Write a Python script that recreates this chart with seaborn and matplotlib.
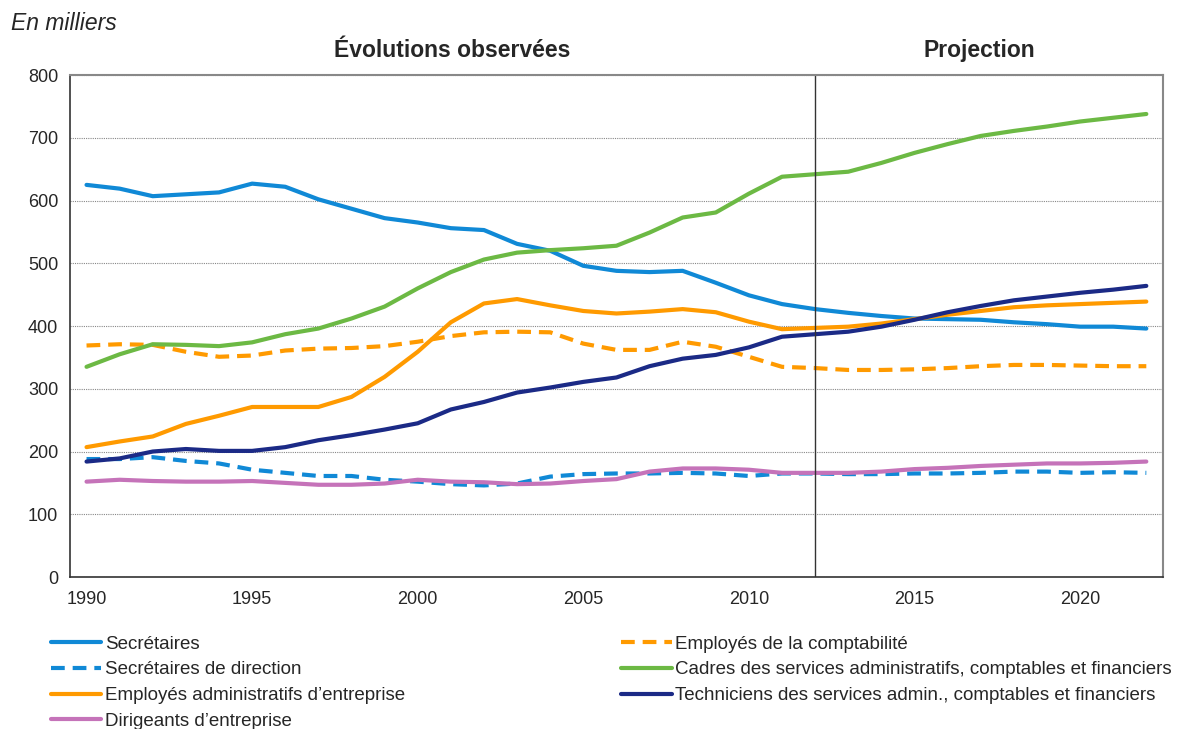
import numpy as np
import pandas as pd
import matplotlib
matplotlib.use("Agg")
import matplotlib.pyplot as plt
from matplotlib.ticker import MultipleLocator
import seaborn as sb

# Data (en milliers)
years = list(range(1990, 2023))

secretaires = [625, 619, 607, 610, 613, 627, 622, 602, 587, 572, 565, 556, 553, 531, 520,
               496, 488, 486, 488, 469, 449, 435, 427, 421, 416, 412, 411, 410, 406, 403,
               399, 399, 396]
secretaires_direction = [188, 188, 191, 185, 181, 171, 166, 161, 161, 155, 152, 148, 146, 149, 160,
                         164, 165, 165, 166, 165, 161, 165, 165, 164, 164, 165, 165, 166, 168, 168,
                         166, 167, 166]
employes_admin = [207, 216, 224, 244, 257, 271, 271, 271, 287, 319, 359, 406, 436, 443, 433,
                  424, 420, 423, 427, 422, 407, 395, 397, 399, 404, 411, 418, 424, 430, 433,
                  435, 437, 439]
dirigeants = [152, 155, 153, 152, 152, 153, 150, 147, 147, 149, 155, 152, 151, 148, 149,
              153, 156, 168, 173, 173, 171, 166, 166, 166, 168, 172, 174, 177, 179, 181,
              181, 182, 184]
employes_compta = [369, 371, 370, 359, 351, 353, 361, 364, 365, 368, 375, 384, 390, 391, 390,
                   372, 362, 362, 375, 367, 351, 335, 333, 330, 330, 331, 333, 336, 338, 338,
                   337, 336, 336]
cadres = [335, 355, 371, 370, 368, 374, 387, 396, 412, 431, 460, 486, 506, 517, 521,
          524, 528, 549, 573, 581, 611, 638, 642, 646, 660, 676, 690, 703, 711, 718,
          726, 732, 738]
techniciens = [184, 189, 200, 204, 201, 201, 207, 218, 226, 235, 245, 267, 279, 294, 302,
               311, 318, 336, 348, 354, 366, 383, 387, 391, 399, 410, 422, 432, 441, 447,
               453, 458, 464]

series = [
    ("Secrétaires", secretaires, "#1089d6", "-"),
    ("Secrétaires de direction", secretaires_direction, "#1089d6", "--"),
    ("Employés administratifs d\u2019entreprise", employes_admin, "#ff9a00", "-"),
    ("Dirigeants d\u2019entreprise", dirigeants, "#c573b9", "-"),
    ("Employés de la comptabilité", employes_compta, "#ff9a00", "--"),
    ("Cadres des services administratifs, comptables et financiers", cadres, "#6cb944", "-"),
    ("Techniciens des services admin., comptables et financiers", techniciens, "#1b2a86", "-"),
]

sb.set_style("white")
plt.rcParams['font.family'] = ['Liberation Sans', 'DejaVu Sans']

fig = plt.figure(figsize=(11.86, 7.29), dpi=100)
ax = fig.add_axes([0.059, 0.2085, 0.9215, 0.6885])

for name, vals, col, ls in series:
    sb.lineplot(x=years, y=vals, ax=ax, color=col, linewidth=3, label=name,
                dashes=False, linestyle=ls)
    if ls == "--":
        ax.lines[-1].set_dashes((3.3, 1.9))

# vertical separator observed / projection
ax.axvline(2012, color="#333333", linewidth=1)

ax.set_xlim(1989.5, 2022.5)
ax.set_ylim(0, 800)
ax.yaxis.set_major_locator(MultipleLocator(100))
ax.set_xticks([1990, 1995, 2000, 2005, 2010, 2015, 2020])
ax.set_xticks(np.arange(1989.5, 2023, 1), minor=True)
ax.tick_params(axis="x", which="major", length=0, labelsize=13, pad=10)
ax.tick_params(axis="x", which="minor", length=5, width=1, color="#333333", direction="out")
ax.tick_params(axis="y", which="major", length=5, width=1, color="#333333", direction="out",
               labelsize=13)
ax.set_xlabel("")
ax.set_ylabel("")
ax.grid(axis="y", color="#888888", linestyle=(0, (1, 1)), linewidth=0.8)
ax.set_axisbelow(True)

for side in ["top", "right"]:
    ax.spines[side].set_color("#888888")
    ax.spines[side].set_linewidth(1.5)
for side in ["left", "bottom"]:
    ax.spines[side].set_color("#333333")
    ax.spines[side].set_linewidth(1.2)

fig.text(0.009, 0.968, "En milliers", fontsize=16.5, style="italic", va="center")
fig.text(0.381, 0.931, "Évolutions observées", fontsize=16.5, fontweight="bold",
         ha="center", va="center")
fig.text(0.826, 0.931, "Projection", fontsize=16.5, fontweight="bold", ha="center", va="center")

leg = ax.legend(loc="upper left", bbox_to_anchor=(-0.033, -0.083), ncol=2, frameon=False,
                fontsize=13.5, handlelength=2.7, handletextpad=0.2, columnspacing=11.5,
                labelspacing=0.46)

fig.savefig("out.png", dpi=100)
